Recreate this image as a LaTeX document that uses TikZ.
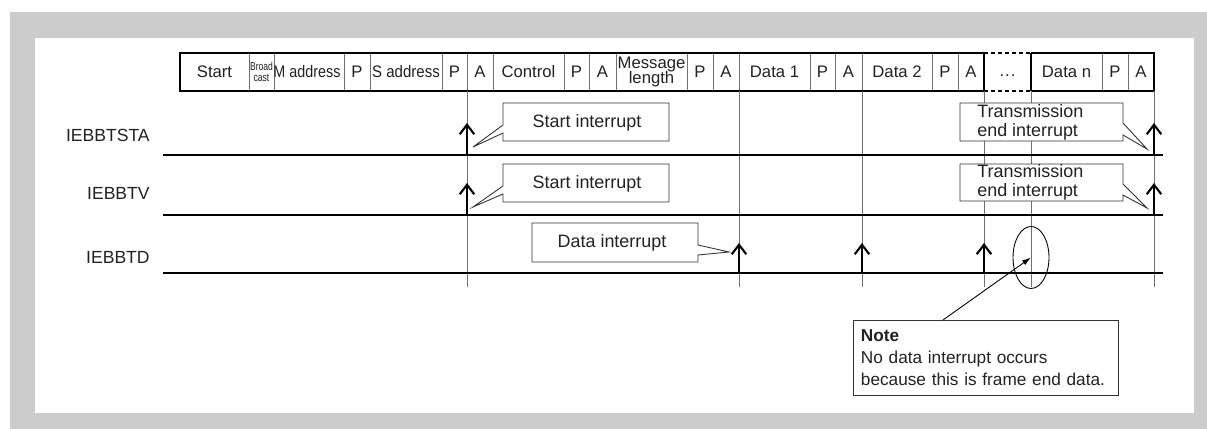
\documentclass[tikz,border=0pt]{standalone}
\usepackage{fontspec}
\setmainfont{Liberation Sans}
\usepackage{graphicx}
\usepackage{tikz}
\usetikzlibrary{
  arrows.meta,
  shapes.geometric
}
\definecolor{panelgray}{HTML}{CCCCCC}
\definecolor{gridgray}{HTML}{707070}
\definecolor{inkgray}{HTML}{222222}

\begin{document}
\begin{tikzpicture}[
  x=0.02cm, y=-0.02cm,
  cell/.style={
    inner sep=0pt, text=inkgray, font=\fontsize{9.5}{10}\selectfont,
  },
  signame/.style={
    anchor=east, inner sep=0pt, text=inkgray, font=\fontsize{10}{12}\selectfont,
  },
  sigline/.style={line width=1.1pt},
  tickline/.style={draw=gridgray, line width=0.5pt},
  divider/.style={draw=gridgray, line width=0.5pt},
  framebox/.style={line width=1.1pt},
  irq/.style={
    line width=1.2pt, -{Straight Barb[length=1.9mm,width=2.9mm]},
  },
  bubble/.style={draw=black!80, line width=0.5pt, fill=white, line join=miter},
  bubbletext/.style={
    inner sep=0pt, text=inkgray, align=left, font=\fontsize{10.2}{11}\selectfont,
  },
  notebox/.style={
    draw=black!80, line width=0.5pt, anchor=north west, align=left,
    text width=50mm, minimum height=15mm, inner xsep=1.5mm, inner ysep=1.2mm,
    text=inkgray, font=\fontsize{9.8}{12.6}\selectfont,
  },
]

% panel
\fill[panelgray] (10,12) rectangle (1207,429);
\fill[white] (35,38) rectangle (1194,413);
\useasboundingbox (0,0) rectangle (1207,429);

% frame layout
\foreach \x in {249,274,344,370,442,467,493,564,589,616,687,713,739,810,835,862,932,958,1102,1128}
  \draw[divider] (\x,53) -- (\x,91);
\draw[framebox] (984,53) -- (180,53) -- (180,91) -- (984,91);
\draw[framebox] (1031,53) -- (1154,53) -- (1154,91) -- (1031,91);
\draw[framebox, dash pattern=on 0.8mm off 0.6mm] (984,53) -- (1031,53);
\draw[framebox, dash pattern=on 0.8mm off 0.6mm] (984,91) -- (1031,91);
\draw[line width=0.8pt] (984,53) -- (984,91);
\draw[line width=0.8pt] (1031,53) -- (1031,91);

\foreach \cx/\txt [count=\i] in {214.5/Start, 357/P, 454.5/P, 480/A, 528.5/Control,
    576.5/P, 602.5/A, 700/P, 726/A, 774.5/Data 1, 822.5/P, 848.5/A, 897/Data 2,
    945/P, 971/A, 1066.5/Data n, 1115/P, 1141/A}
  \node[cell] (cell\i) at (\cx,72) {\txt};
\node[cell, anchor=base] (gap) at (1007.5,77) {.\kern0.6pt.\kern0.6pt.};
\node[cell, align=center, font=\fontsize{6.5}{6.5}\selectfont] (bcast) at (261.5,72)
  {\scalebox{0.75}[1]{Broad}\\\scalebox{0.75}[1]{cast}};
\node[cell] (maddr) at (307,72) {\scalebox{0.86}[1]{M address}};
\node[cell] (saddr) at (406,72) {\scalebox{0.9}[1]{S address}};
\node[cell, align=center, font=\fontsize{9.5}{9}\selectfont] (msglen) at (651.5,72)
  {Message\\length};

% timing marks
\foreach \x in {467,739,862,984,1031,1154}
  \draw[tickline] (\x,91) -- (\x,287);

% signals
\node[signame] (sta) at (150,135) {IEBBTSTA};
\node[signame] (stv) at (150,193) {IEBBTV};
\node[signame] (std) at (150,257) {IEBBTD};
\draw[sigline] (163,155) -- (1163,155);
\draw[sigline] (163,215) -- (1163,215);
\draw[sigline] (163,273) -- (1163,273);

\draw[irq] (467,155) -- (467,123);
\draw[irq] (1154,155) -- (1154,123);
\draw[irq] (467,215) -- (467,183);
\draw[irq] (1154,215) -- (1154,183);
\draw[irq] (739,273) -- (739,243);
\draw[irq] (862,273) -- (862,243);
\draw[irq] (984,273) -- (984,243);

% callouts
\draw[bubble] (503,103) -- (669,103) -- (669,141) -- (503,141) -- (503,133)
  -- (473,147) -- (503,125) -- cycle;
\node[bubbletext] (si1) at (587,123) {Start interrupt};
\draw[bubble] (503,164) -- (669,164) -- (669,202) -- (503,202) -- (503,194)
  -- (473,207) -- (503,186) -- cycle;
\node[bubbletext] (si2) at (587,184) {Start interrupt};
\draw[bubble] (960,103) -- (1123,103) -- (1123,123) -- (1147,149) -- (1123,135)
  -- (1123,141) -- (960,141) -- cycle;
\node[bubbletext, anchor=west] (te1) at (977,122.5) {Transmission\\end interrupt};
\draw[bubble] (960,164) -- (1123,164) -- (1123,184) -- (1147,208) -- (1123,195)
  -- (1123,201) -- (960,201) -- cycle;
\node[bubbletext, anchor=west] (te2) at (977,182.5) {Transmission\\end interrupt};
\draw[bubble] (532,223) -- (698,223) -- (698,245) -- (729,252) -- (698,255)
  -- (698,262) -- (532,262) -- cycle;
\node[bubbletext] (di) at (612,243) {Data interrupt};

% frame end data
\node[draw, ellipse, line width=0.5pt, inner sep=0pt, minimum width=7.2mm,
  minimum height=12.4mm] (fend) at (1031,257.5) {};
\node[notebox] (note) at (853,320)
  {\textbf{Note}\\No data interrupt occurs\\because this is frame end data.};
\coordinate (nref) at (943,320);
\draw[line width=0.5pt, -{Latex[length=1.8mm,width=1.1mm]}] (nref) -- (fend.center);

\end{tikzpicture}
\end{document}
